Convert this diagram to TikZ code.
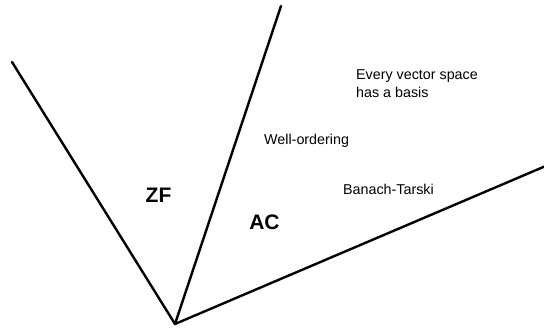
\documentclass[tikz,border=0pt]{standalone}
\usepackage{fontspec}
\setmainfont{Liberation Sans}
\begin{document}
\begin{tikzpicture}[x=1pt,y=-1pt,
  ray/.style={line width=2.4pt, line cap=round},
  lbl/.style={font=\fontsize{14.3}{18}\selectfont, inner sep=0pt, align=left},
  big/.style={font=\fontsize{21}{24}\selectfont\bfseries, inner sep=0pt}]
\useasboundingbox (0,0) rectangle (544,327);
\coordinate (o) at (175,324);
\coordinate (e1) at (12,62);
\coordinate (e2) at (281,6);
\coordinate (e3) at (548,165);
\draw[ray] (o) -- (e1);
\draw[ray] (o) -- (e2);
\draw[ray] (o) -- (e3);
\node[big] (zf) at (158.5,195) {ZF};
\node[big] (ac) at (264.5,222.5) {AC};
\node[lbl, anchor=north west] (ev) at (356,69) {Every vector space\\has a basis};
\node[lbl, anchor=west] (wo) at (264,141) {Well-ordering};
\node[lbl, anchor=west] (bt) at (343,189) {Banach-Tarski};
\end{tikzpicture}
\end{document}
